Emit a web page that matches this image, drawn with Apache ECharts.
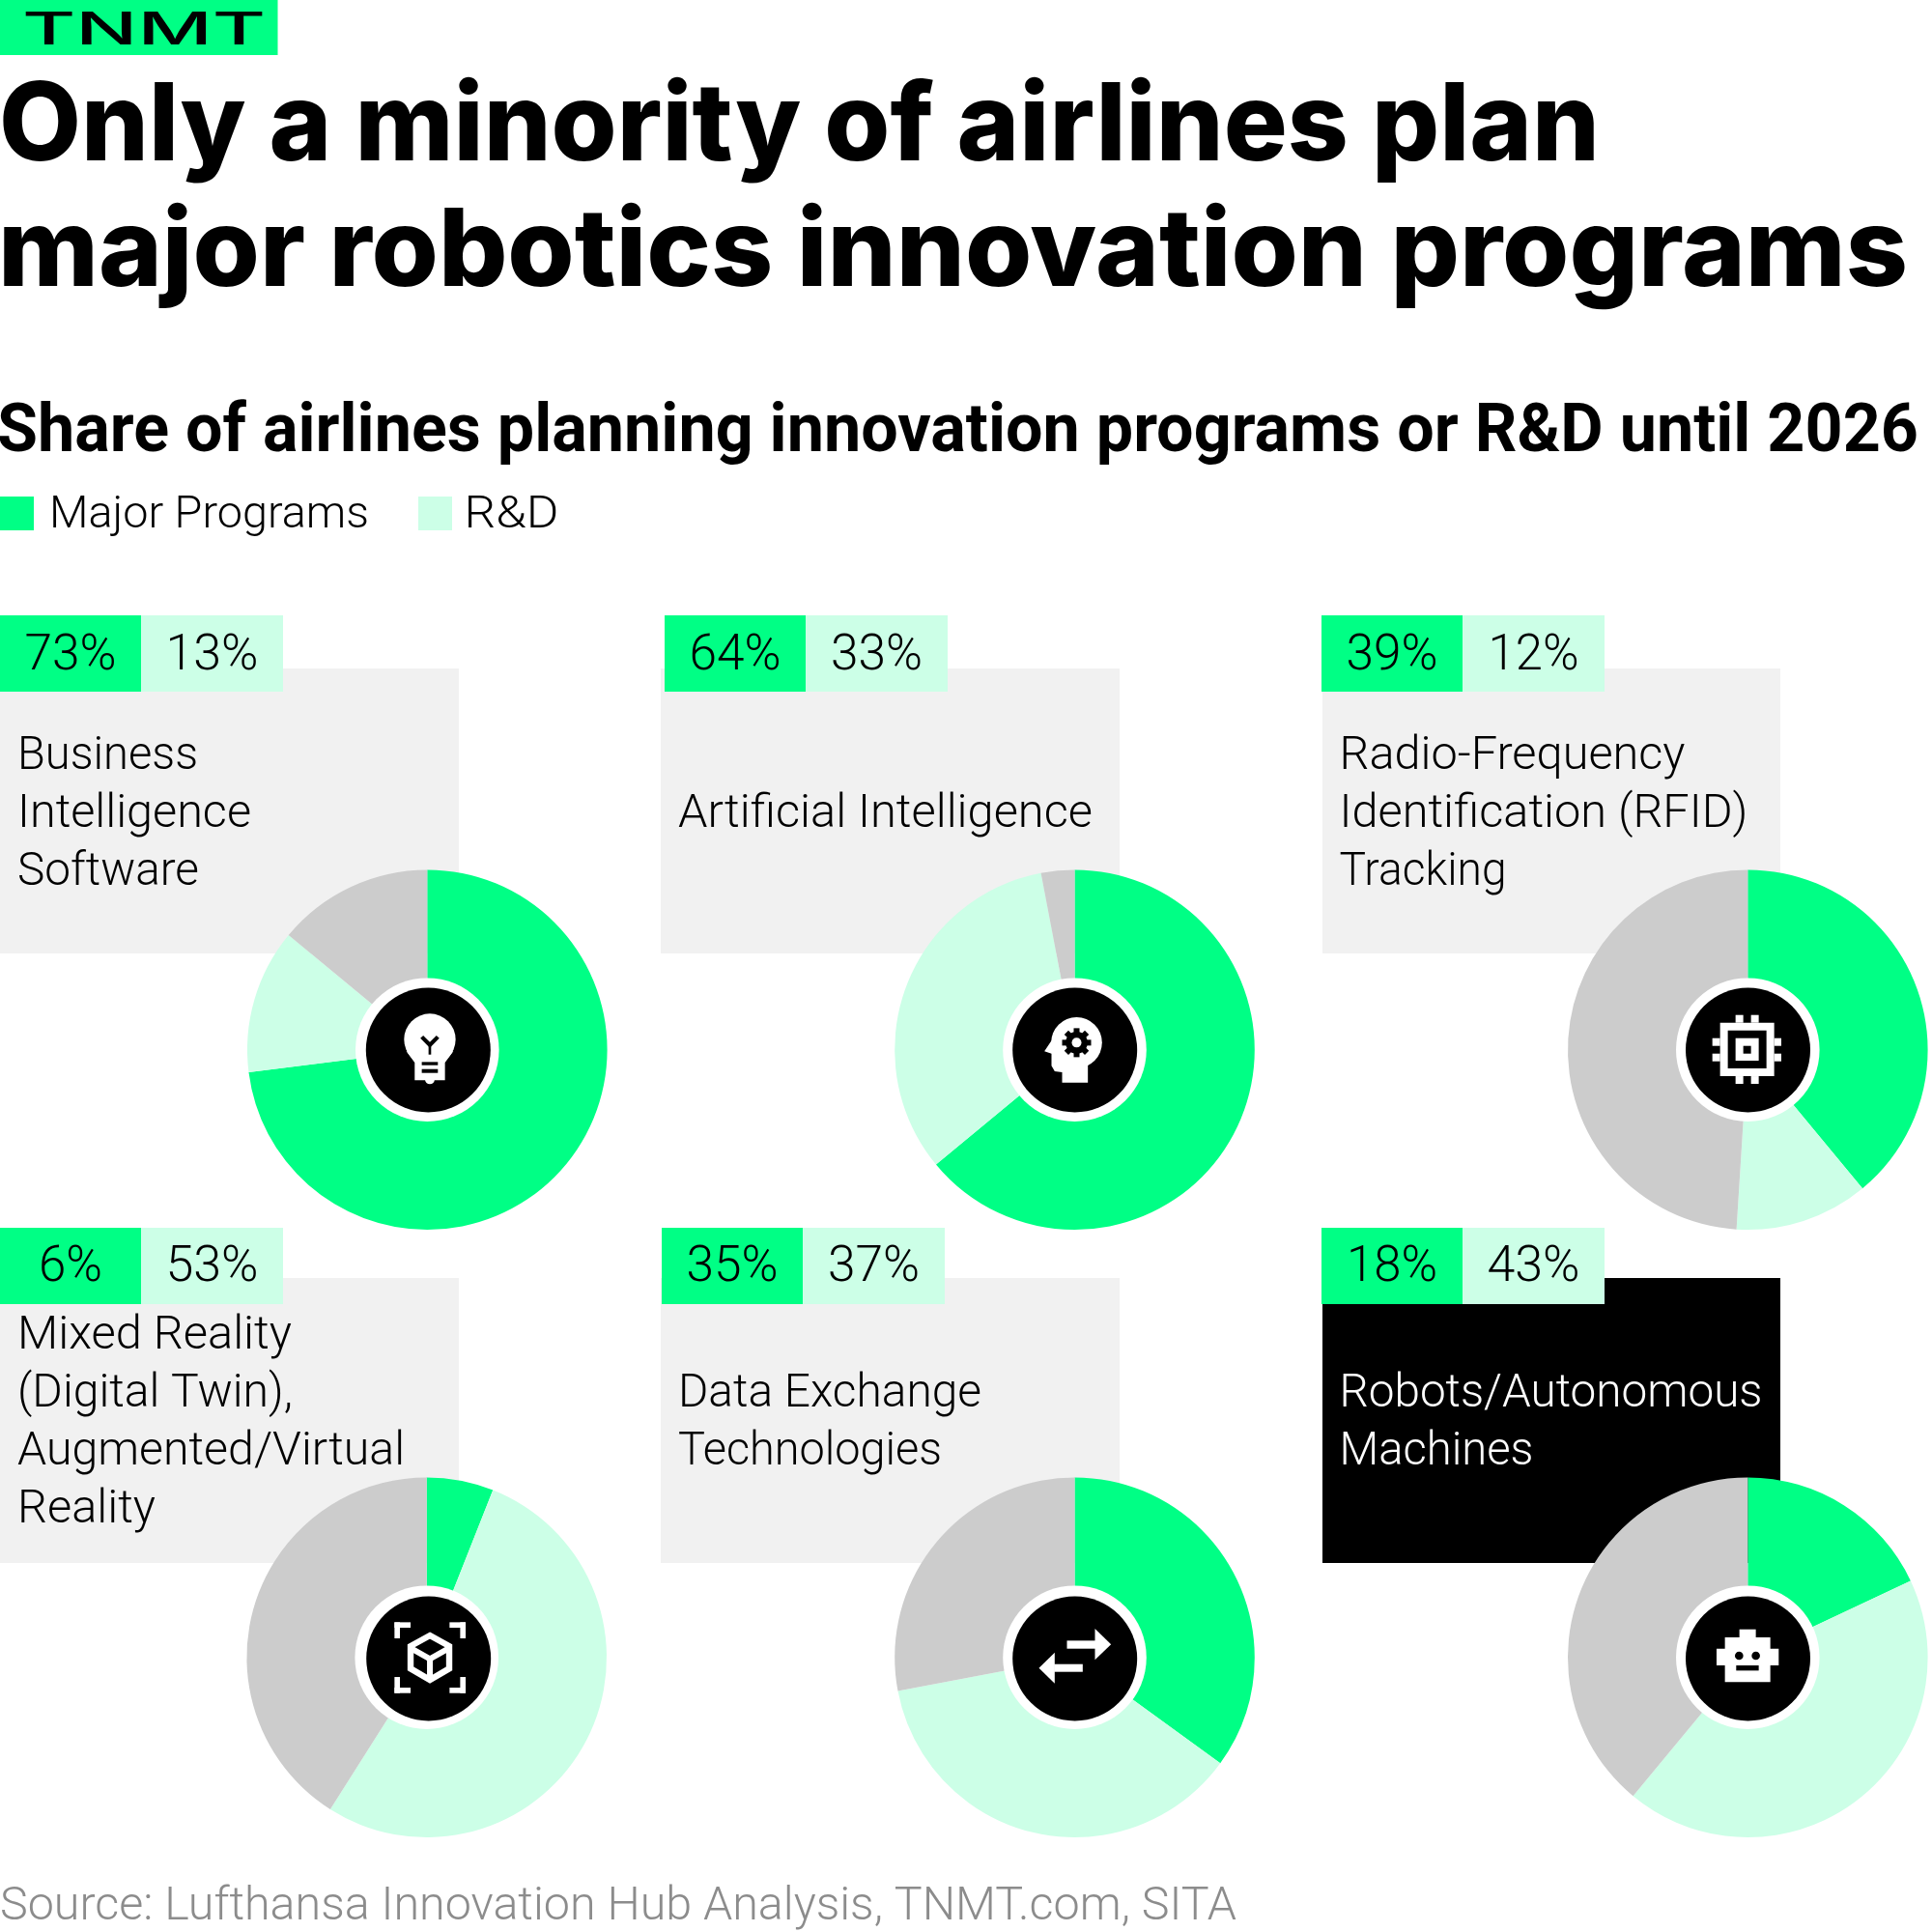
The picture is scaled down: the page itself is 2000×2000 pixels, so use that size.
<!DOCTYPE html>
<html><head><meta charset="utf-8">
<style>html,body{margin:0;padding:0;background:#fff}#c{width:2000px;height:2000px}</style>
<script src="https://cdn.jsdelivr.net/npm/echarts@6/dist/echarts.min.js"></script>
</head><body><div id="c"></div>
<script>
// ---- chart content ----
const logoText = 'TNMT';
const titleLines = ['Only a minority of airlines plan', 'major robotics innovation programs'];
const subtitle = 'Share of airlines planning innovation programs or R&D until 2026';
const legendNames = ['Major Programs', 'R&D'];
const source = 'Source: Lufthansa Innovation Hub Analysis, TNMT.com, SITA';
const categories = [
  ['Business', 'Intelligence', 'Software'],
  ['Artificial Intelligence'],
  ['Radio-Frequency', 'Identification (RFID)', 'Tracking'],
  ['Mixed Reality', '(Digital Twin),', 'Augmented/Virtual', 'Reality'],
  ['Data Exchange', 'Technologies'],
  ['Robots/Autonomous', 'Machines']
];
const majorPrograms = [73, 64, 39, 6, 35, 18];
const researchDev   = [13, 33, 12, 53, 37, 43];
const remainder     = [14, 3, 49, 41, 28, 39];

// ---- layout & style ----
const GREEN = '#00FF85', MINT = '#CCFFE7', GREY = '#CCCCCC', PANEL = '#F1F1F1';
const BODY = 'Roboto', HEAD = 'Inter';
const centers = [[442.3,1086.7],[1112.5,1086.7],[1809.3,1086.7],[441.7,1715.7],[1112.5,1715.7],[1809.3,1715.7]];
const discOffset = [[1,0.3],[0.2,0.3],[0.2,0.3],[2,1.3],[0.2,1.3],[0.2,1.3]];
const panels = [[0,692,475,295],[684,692,475,295],[1369,692,474,295],[0,1323,475,295],[684,1323,475,295],[1369,1323,474,295]];
const badges = [[0,637],[688,637],[1368,637],[0,1271],[685,1271],[1368,1271]];
const textX = [18,702,1386.5,18,702,1386.5];
const firstBase = [795.5,855.5,795.5,1395.5,1455.5,1455.5];
const lineW = [[187,242,188],[429],[358,423,173],[284,285,401,143],[314,273],[438,201]];
const badgeW = [[95,96],[95,95],[95,94],[66,96],[95,95],[94,96]];

const mctx = document.createElement('canvas').getContext('2d');
function metrics(font, s){ mctx.font = font; mctx.textBaseline = 'middle'; return mctx.measureText(s); }
// real text element placed by its baseline and fitted to a measured width
function txt(s, x, base, font, fill, width, z, align){
  const w = metrics(font, s).width;
  const off = metrics(font, 'H').actualBoundingBoxDescent;
  return {type:'text', x:x, y:base-off, scaleX: width ? width/w : 1, silent:true, z:z||5,
    style:{text:s, font:font, fill:fill, align:align||'left', verticalAlign:'middle'}};
}
const R = (x0,y0,x1,y1,fill,cx,cy)=>({type:'rect',z:12,silent:true,shape:{x:(x0-cx)/3,y:(y0-cy)/3,width:(x1-x0)/3,height:(y1-y0)/3},style:{fill}});
const P = (pts,cx,cy,fill)=>({type:'polygon',z:12,silent:true,shape:{points:pts.map(p=>[(p[0]-cx)/3,(p[1]-cy)/3])},style:{fill}});
const L = (pts,cx,cy,w,stroke,closed)=>({type:closed?'polygon':'polyline',z:13,silent:true,shape:{points:pts.map(p=>[(p[0]-cx)/3,(p[1]-cy)/3])},style:{fill:closed?'none':null,stroke,lineWidth:w,lineJoin:'miter'}});
const C = (x,y,r,fill,cx,cy,z)=>({type:'circle',z:z||13,silent:true,shape:{cx:(x-cx)/3,cy:(y-cy)/3,r:r/3},style:{fill}});

const W='#fff', K='#000';
function bulb(){ const c=[637,620]; return [
  C(645,588,80,W,...c,12),
  P([[572,625],[598,660],[598,715],[692,715],[692,660],[718,625]],...c,W),
  C(645,712,15,W,...c,12),
  L([[620,580],[645,605],[670,580]],...c,4.2,K),
  R(641,600,649,635,K,...c),
  Object.assign(R(620,658,670,668,K,...c),{z:13}),
  Object.assign(R(620,680,670,692,K,...c),{z:13})
];}
function head(){ const c=[337,380]; const g=[];
  g.push(C(343,358,79,W,...c,12));
  g.push(P([[265,352],[243,385],[265,392],[265,430],[275,447],[298,450],[298,482],[378,482],[378,428],[400,405],[343,358]],...c,W));
  g.push(C(343,358,34,K,...c,13));
  for(let i=0;i<8;i++){ const a=i*Math.PI/4;
    const px=343+36*Math.cos(a), py=358+36*Math.sin(a);
    g.push({type:'rect',z:13,silent:true,x:(px-c[0])/3,y:(py-c[1])/3,rotation:-a,shape:{x:-3,y:-3,width:6,height:6},style:{fill:K}});
  }
  g.push(C(343,358,15,W,...c,14));
  return g;
}
function chip(){ const c=[388,380]; const a=[
  [302,296,470,462,W],[350,272,374,296,W],[398,272,422,296,W],[350,462,374,486,W],[398,462,422,486,W],
  [278,344,302,368,W],[278,392,302,416,W],[470,344,492,368,W],[470,392,492,416,W]];
  return a.map(v=>R(v[0],v[1],v[2],v[3],v[4],...c)).concat([
    Object.assign(R(326,320,446,438,K,...c),{z:13}),
    Object.assign(R(350,344,422,414,W,...c),{z:14}),
    Object.assign(R(374,368,398,392,K,...c),{z:15})]);
}
function cube(){ const c=[305,347]; const cs=[[205,238,1,1],[426,238,-1,1],[205,458,1,-1],[426,458,-1,-1]]; const o=[];
  cs.forEach(k=>{ const [x,y,sx,sy]=k;
    const x1=x+sx*50,y1=y+sy*50,t=17;
    o.push(R(Math.min(x,x1),Math.min(y,y+sy*t),Math.max(x,x1),Math.max(y,y+sy*t),W,...c));
    o.push(R(Math.min(x,x+sx*t),Math.min(y,y1),Math.max(x,x+sx*t),Math.max(y,y1),W,...c));
  });
  o.push(L([[315,279],[375,312],[375,382],[315,417],[255,382],[255,312]],...c,6.4,W,true));
  o.push(L([[258,320],[315,352],[372,320]],...c,6,W));
  o.push(L([[315,352],[315,420]],...c,6,W));
  return o;
}
function arrows(){ const c=[337,347]; return [
  R(313,295,402,320,W,...c), P([[400,258],[450,307],[400,355]],...c,W),
  R(273,368,362,392,W,...c), P([[275,332],[226,380],[275,428]],...c,W)
];}
function robot(){ const c=[388,347]; return [
  R(362,260,413,287,W,...c), R(317,285,458,424,W,...c), R(291,320,484,372,W,...c),
  C(361,342,13,K,...c,14), C(413,342,13,K,...c,14),
  Object.assign(R(352,372,422,388,K,...c),{z:14})
];}
const icons=[bulb,head,chip,cube,arrows,robot];

const els=[];
// panels below the pies
panels.forEach((p,i)=>els.push({type:'rect',z:0,silent:true,shape:{x:p[0],y:p[1],width:p[2],height:p[3]},style:{fill:i===5?'#000':PANEL}}));
// header
els.push({type:'rect',z:1,silent:true,shape:{x:0,y:0,width:287.5,height:57},style:{fill:GREEN}});
els.push(txt(logoText,23,45.5,'500 47px Inter','#000',252,5));
els.push(txt(titleLines[0],-1,166,'800 112px '+HEAD,'#000',1657));
els.push(txt(titleLines[1],-2,296,'800 112px '+HEAD,'#000',1977));
els.push(txt(subtitle,-3,466.5,'700 71px '+BODY,'#000',1989));
// legend
els.push({type:'rect',z:1,silent:true,shape:{x:0,y:514,width:35,height:35},style:{fill:GREEN}});
els.push({type:'rect',z:1,silent:true,shape:{x:433,y:514,width:35,height:35},style:{fill:MINT}});
els.push(txt(legendNames[0],51,546,'300 47px '+BODY,'#000',331));
els.push(txt(legendNames[1],480.5,546,'300 47px '+BODY,'#000',98));
els.push(txt(source,0,1987,'300 48px '+BODY,'#8C8C8C',1280));

categories.forEach((lines,i)=>{
  const [bx,by]=badges[i], base=by+ (i<3?56:55), fg=i===5?'#fff':'#000';
  els.push({type:'rect',z:3,silent:true,shape:{x:bx,y:by,width:146,height:79},style:{fill:GREEN}});
  els.push({type:'rect',z:3,silent:true,shape:{x:bx+146,y:by,width:147,height:79},style:{fill:MINT}});
  els.push(txt(majorPrograms[i]+'%',bx+73,base,'300 52px '+BODY,'#000',badgeW[i][0],6,'center'));
  els.push(txt(researchDev[i]+'%',bx+219.5,base,'300 52px '+BODY,'#000',badgeW[i][1],6,'center'));
  lines.forEach((s,k)=>els.push(txt(s,textX[i],firstBase[i]+k*60,'300 49px '+BODY,fg,lineW[i][k],6)));
  const [cx,cy]=centers[i];
  els.push({type:'circle',z:10,silent:true,shape:{cx,cy,r:74.3},style:{fill:'#fff'}});
  els.push({type:'circle',z:11,silent:true,shape:{cx:cx+discOffset[i][0],cy:cy+discOffset[i][1],r:64.5},style:{fill:'#000'}});
  els.push({type:'group',x:cx,y:cy,silent:true,children:icons[i]()});
});

const series = categories.map((c,i)=>({
  type:'pie', name:c.join(' '), center:centers[i], radius:[60,186.3], startAngle:90, clockwise:true,
  silent:true, animation:false, z:2, label:{show:false}, labelLine:{show:false},
  itemStyle:{borderWidth:0},
  data:[{name:legendNames[0],value:majorPrograms[i],itemStyle:{color:GREEN}},
        {name:legendNames[1],value:researchDev[i],itemStyle:{color:MINT}},
        {name:'Other',value:remainder[i],itemStyle:{color:GREY}}]
}));

const chart = echarts.init(document.getElementById('c'),null,{renderer:'canvas',width:2000,height:2000});
chart.setOption({backgroundColor:'#fff',animation:false,series,graphic:{elements:els}});
</script></body></html>
